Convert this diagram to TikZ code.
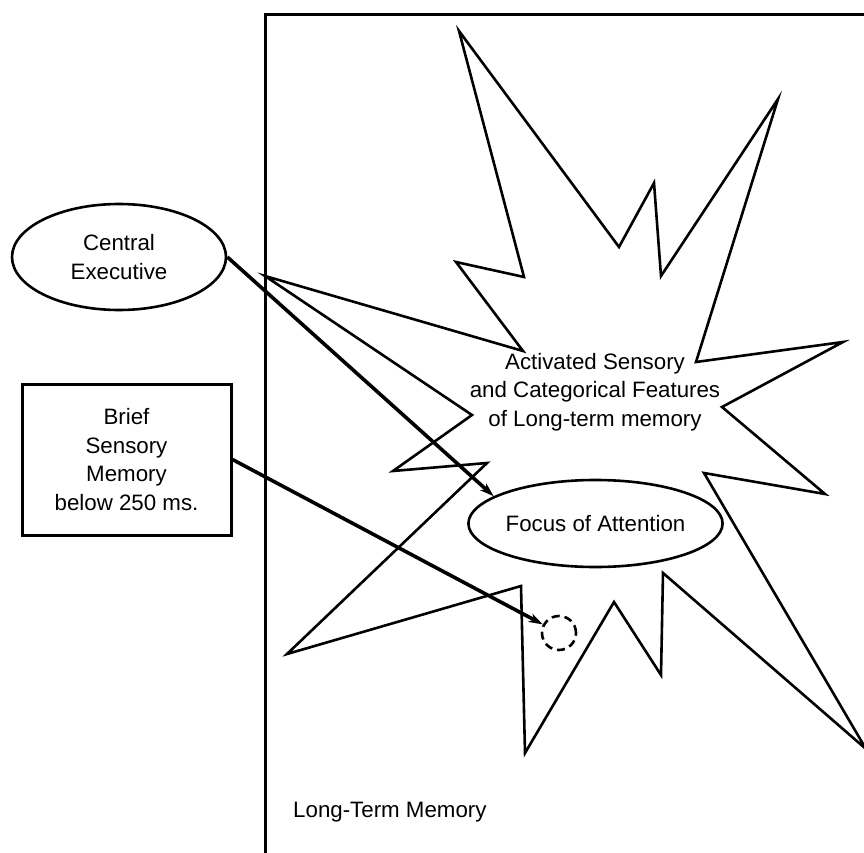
\documentclass[tikz,border=0pt]{standalone}
\usepackage{fontspec}
\setmainfont{Liberation Sans}
\usetikzlibrary{shapes.geometric,arrows.meta}
\begin{document}
\begin{tikzpicture}[x=1pt,y=-1pt,
  every node/.style={font=\fontsize{22.3}{28.5}\selectfont, align=center},
  burst/.style={draw, line width=2.6pt, line join=miter, miter limit=20},
  oval/.style={draw, ellipse, line width=2.6pt, inner sep=0pt},
  memorybox/.style={draw, line width=3pt, inner sep=0pt},
  link/.style={line width=3.6pt, -{Stealth[length=14pt,width=9pt,inset=4pt]}},
  frame/.style={line width=3pt}]
\useasboundingbox (0,0) rectangle (864,853);

% long-term memory frame
\draw[frame] (265,853) -- (265,15) -- (864,15);
\node[anchor=base west, inner sep=0pt] (ltm) at (293,817) {Long-Term Memory};

% activated region
\draw[burst] (459,31) -- (619,247) -- (654,183) -- (661,276) -- (778,99)
  -- (696,362) -- (843,342) -- (722,407) -- (825,494) -- (704,473)
  -- (866,749) -- (663,573) -- (661,675) -- (614,602) -- (525,753)
  -- (521,586) -- (287,654) -- (487,463) -- (393,471) -- (472,415)
  -- (265,276) -- (523,351) -- (456,262) -- (524,277) -- cycle;
\node (act) at (595,392) {Activated Sensory\\and Categorical Features\\of Long-term memory};

% focus of attention and sensory trace
\node[oval, minimum width=217pt, minimum height=87pt] (foa) at (595.5,523.5) {Focus of Attention};
\node[draw, circle, line width=2.6pt, dash pattern=on 8pt off 5pt, minimum size=34pt, inner sep=0pt] (dc) at (559,633) {};

% outside components
\node[oval, minimum width=214pt, minimum height=106pt] (ce) at (119,257) {Central\\Executive};
\node[memorybox, minimum width=209pt, minimum height=151pt] (bsm) at (126.5,459.5) {Brief\\Sensory\\Memory\\below 250 ms.};

% connections
\draw[link] (ce.east) -- (foa.165);
\draw[link] (bsm.east) -- (dc);
\end{tikzpicture}
\end{document}
